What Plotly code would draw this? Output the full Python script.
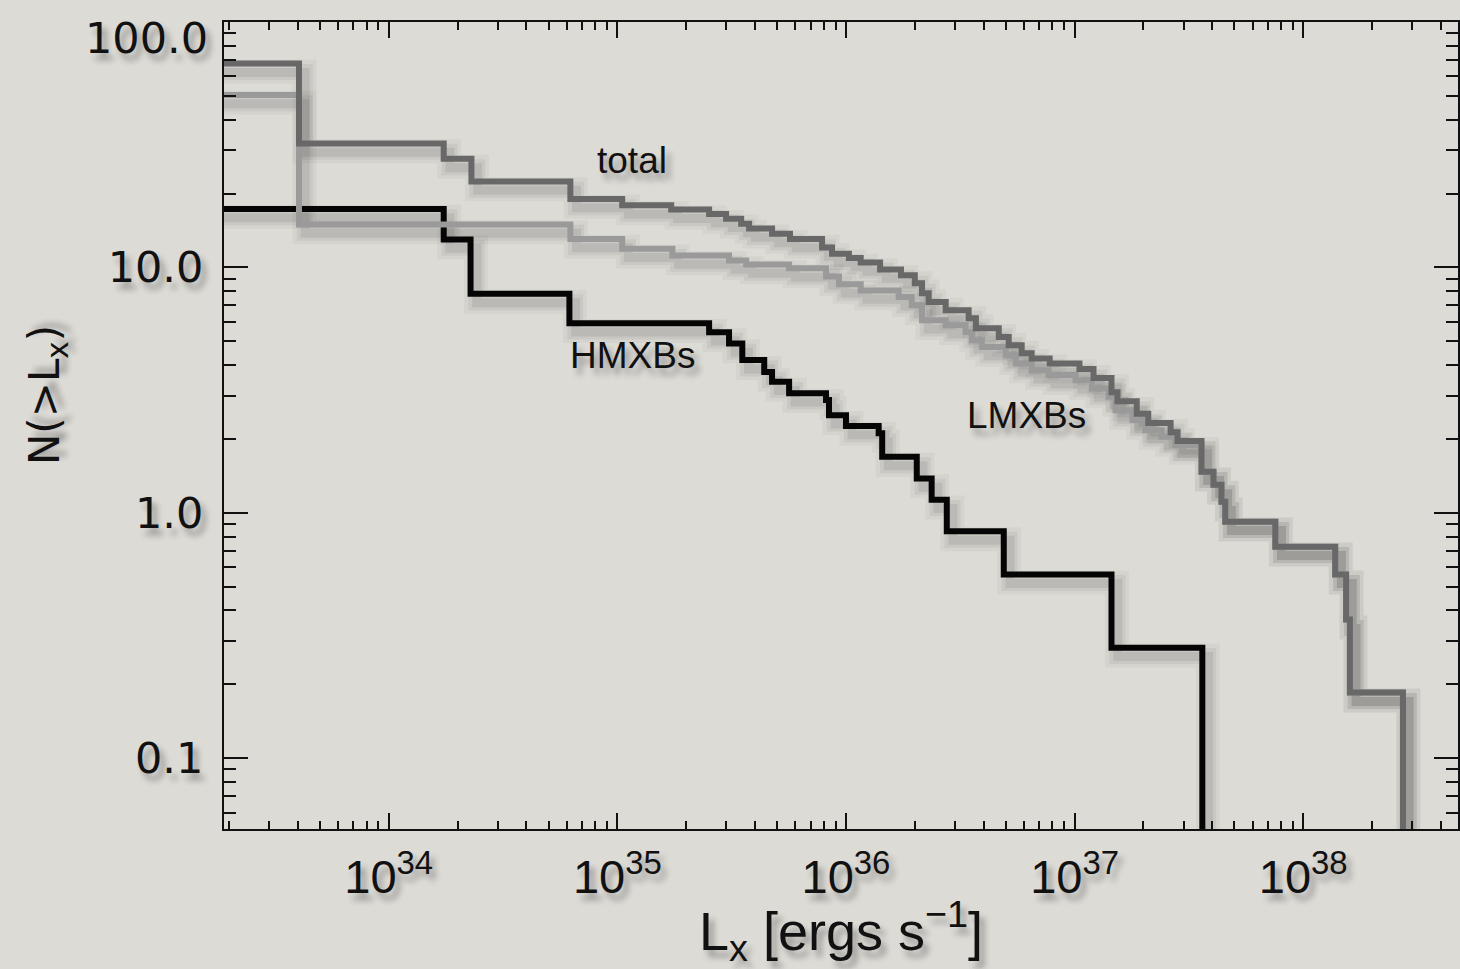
import plotly.graph_objects as go

# Cumulative X-ray luminosity functions, N(>Lx).
# Each series: luminosity where a step starts [erg/s] and the level from there on.
total_lx = [1.5e33, 4.05e33, 1.74e34, 2.30e34, 6.23e34, 1.05e35, 1.72e35, 2.52e35,
            2.99e35, 3.48e35, 3.77e35, 4.75e35, 5.69e35, 7.86e35, 8.69e35, 1.03e36,
            1.16e36, 1.41e36, 1.74e36, 2.00e36, 2.15e36, 2.30e36, 2.73e36, 3.44e36,
            3.70e36, 4.66e36, 5.15e36, 5.87e36, 6.49e36, 7.78e36, 1.05e37, 1.21e37,
            1.45e37, 1.54e37, 1.87e37, 2.10e37, 2.63e37, 2.82e37, 3.59e37, 4.05e37,
            4.39e37, 4.56e37, 7.55e37, 1.38e38, 1.54e38, 1.60e38, 2.73e38]
total_n = [67.7, 32.0, 27.7, 22.4, 19.0, 17.9, 17.2, 16.5,
           15.8, 15.05, 14.4, 13.7, 13.06, 12.06, 11.37, 10.93,
           10.48, 9.81, 9.28, 8.61, 7.84, 7.23, 6.69, 6.20,
           5.65, 5.21, 4.82, 4.47, 4.25, 4.06, 3.85, 3.54,
           3.10, 2.85, 2.53, 2.32, 2.13, 1.96, 1.47, 1.30,
           1.11, 0.92, 0.727, 0.56, 0.367, 0.185, 0.0]

lmxb_lx = [1.5e33, 4.05e33, 6.23e34, 1.05e35, 1.74e35, 3.08e35, 3.66e35, 5.64e35,
           8.18e35, 9.32e35, 1.16e36, 1.70e36, 1.94e36, 2.15e36, 2.73e36, 3.34e36,
           3.55e36, 3.93e36, 5.00e36, 5.53e36, 6.49e36, 7.70e36, 1.01e37, 1.19e37,
           1.41e37, 1.51e37, 1.79e37, 2.04e37, 2.40e37, 2.76e37, 3.59e37, 4.05e37,
           4.39e37, 4.56e37, 7.55e37, 1.38e38, 1.54e38, 1.60e38, 2.73e38]
lmxb_n = [50.4, 14.96, 13.06, 11.91, 11.19, 10.68, 10.28, 9.91,
          9.19, 8.53, 8.06, 7.57, 7.01, 6.09, 5.81, 5.46,
          5.05, 4.74, 4.39, 4.06, 3.81, 3.64, 3.47, 3.21,
          2.97, 2.62, 2.39, 2.17, 2.04, 1.89, 1.47, 1.30,
          1.11, 0.92, 0.727, 0.56, 0.367, 0.185, 0.0]

hmxb_lx = [1.5e33, 1.74e34, 2.28e34, 6.17e34, 2.52e35, 3.08e35, 3.52e35, 4.39e35,
           4.75e35, 5.64e35, 8.18e35, 8.43e35, 1.00e36, 1.39e36, 1.44e36, 2.04e36,
           2.37e36, 2.76e36, 4.90e36, 1.45e37, 3.62e37]
hmxb_n = [17.3, 13.0, 7.80, 5.92, 5.44, 4.90, 4.19, 3.75,
          3.42, 3.07, 2.88, 2.50, 2.26, 2.11, 1.69, 1.38,
          1.13, 0.84, 0.56, 0.282, 0.0]

x_tick_vals = [1e34, 1e35, 1e36, 1e37, 1e38]
x_tick_text = ["10<sup>34</sup>", "10<sup>35</sup>", "10<sup>36</sup>",
               "10<sup>37</sup>", "10<sup>38</sup>"]
y_tick_vals = [0.1, 1.0, 10.0]
y_tick_text = ["0.1", "1.0", "10.0"]
y_top_label = "100.0"

# empty bins are drawn down past the bottom of the log axis
N_FLOOR = 1e-3

BG = "#dddbd6"
INK = "#111111"
TEXT_SHADOW = "5px 7px 6px rgba(0,0,0,0.33)"

x_minor = [m * 10.0 ** k for k in range(33, 39) for m in range(2, 10)]
y_minor = [m * 10.0 ** k for k in range(-2, 2) for m in range(2, 10)]


def floored(values):
    return [max(v, N_FLOOR) for v in values]


def shadow(lx, n, dx_dec, dy_dec):
    return ([v * 10 ** dx_dec for v in lx], [v * 10 ** (-dy_dec) for v in floored(n)])


fig = go.Figure()

series = [
    (hmxb_lx, hmxb_n, "#050505", "HMXBs"),
    (lmxb_lx, lmxb_n, "#9a9a9a", "LMXBs"),
    (total_lx, total_n, "#686868", "total"),
]

# soft drop shadows under the curves
for lx, n, _, name in series:
    for width, alpha, off in [(24, 0.035, 0.032), (16, 0.05, 0.034), (9, 0.07, 0.036)]:
        sx, sy = shadow(lx, n, off * 0.75, off)
        fig.add_trace(go.Scatter(
            x=sx, y=sy, mode="lines", line=dict(shape="hv", width=width,
                                                  color=f"rgba(0,0,0,{alpha})"),
            hoverinfo="skip", showlegend=False))

for lx, n, color, name in series:
    fig.add_trace(go.Scatter(
        x=lx, y=floored(n), mode="lines", name=name,
        line=dict(shape="hv", width=6, color=color), showlegend=False))

label_font = dict(family="Liberation Sans, Arial, sans-serif", size=37, color=INK,
                  shadow=TEXT_SHADOW)
fig.add_annotation(x=35.066, y=1.436, xref="x", yref="y", text="total",
                   showarrow=False, font=label_font)
fig.add_annotation(x=35.066, y=0.642, xref="x", yref="y", text="HMXBs",
                   showarrow=False, font=label_font)
fig.add_annotation(x=36.79, y=0.397, xref="x", yref="y", text="LMXBs",
                   showarrow=False, font=label_font)

# axis titles / top tick label
fig.add_annotation(x=-0.1424, y=0.538, xref="paper", yref="paper",
                   xanchor="center", yanchor="middle",
                   text="N(>L<sub>x</sub>)", textangle=-90, showarrow=False,
                   font=dict(family="DejaVu Sans, sans-serif", size=42, color=INK,
                             shadow=TEXT_SHADOW))
fig.add_annotation(x=-0.0113, y=0.98, xref="paper", yref="paper",
                   xanchor="right", yanchor="middle", text=y_top_label, showarrow=False,
                   font=dict(family="DejaVu Sans, sans-serif", size=43, color=INK,
                             shadow=TEXT_SHADOW))

fig.update_layout(
    width=1460, height=969,
    margin=dict(l=224, r=0, t=22, b=140),
    paper_bgcolor=BG, plot_bgcolor=BG,
    font=dict(family="Liberation Sans, Arial, sans-serif", color=INK),
)

fig.update_xaxes(
    type="log", range=[33.2795, 38.677],
    showgrid=False, zeroline=False,
    showline=True, linecolor=INK, linewidth=2, mirror="ticks",
    ticks="inside", ticklen=16, tickwidth=2, tickcolor=INK,
    tickmode="array", tickvals=x_tick_vals, ticktext=x_tick_text,
    tickfont=dict(family="Liberation Sans Narrow, Arial Narrow, sans-serif", size=47,
                  color=INK, shadow=TEXT_SHADOW),
    ticklabelstandoff=6,
    minor=dict(tickmode="array", tickvals=x_minor, ticks="inside", ticklen=8,
               tickwidth=1.5, tickcolor=INK, showgrid=False),
    title=dict(text="L<sub>x</sub> [ergs s<sup>−1</sup>]", standoff=4,
               font=dict(family="Liberation Sans Narrow, Arial Narrow, sans-serif",
                         size=54, color=INK, shadow=TEXT_SHADOW)),
)

fig.update_yaxes(
    type="log", range=[-1.2886, 2.0],
    showgrid=False, zeroline=False,
    showline=True, linecolor=INK, linewidth=2, mirror="ticks",
    ticks="inside", ticklen=24, tickwidth=2, tickcolor=INK,
    tickmode="array", tickvals=y_tick_vals, ticktext=y_tick_text,
    tickfont=dict(family="DejaVu Sans, sans-serif", size=43, color=INK,
                  shadow=TEXT_SHADOW),
    ticklabelstandoff=10,
    minor=dict(tickmode="array", tickvals=y_minor, ticks="inside", ticklen=12,
               tickwidth=1.5, tickcolor=INK, showgrid=False),
)

fig.write_html("out.html")
